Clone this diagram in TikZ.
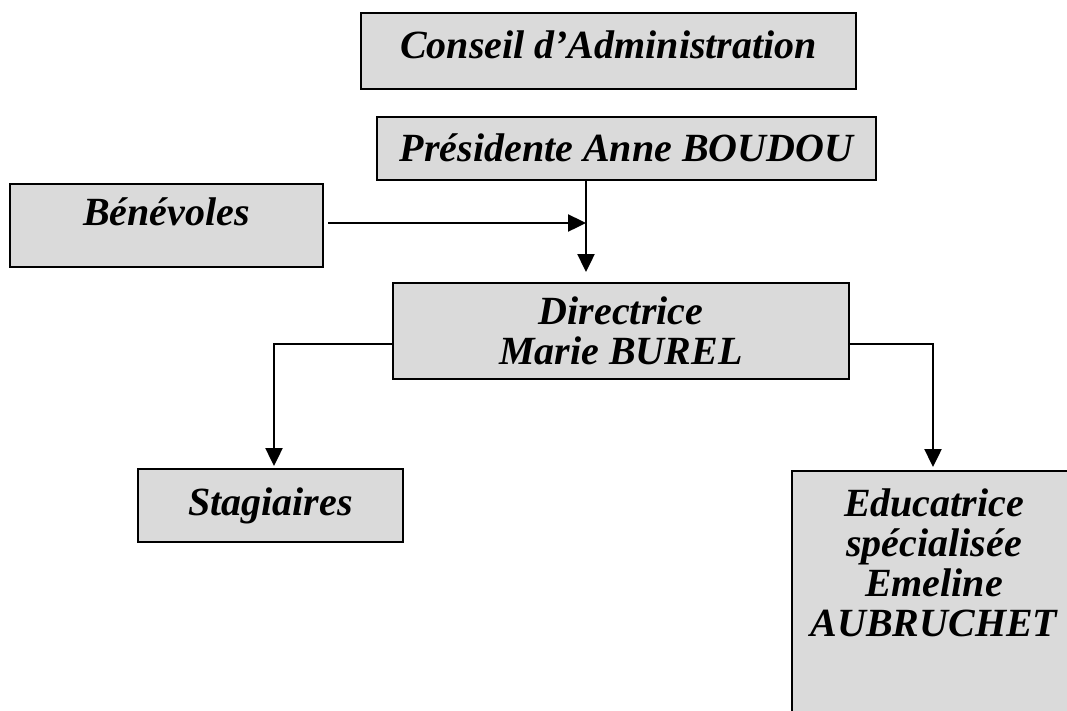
\documentclass[tikz,border=0pt]{standalone}
\usepackage{fontspec}
\setmainfont{Liberation Serif}
\usetikzlibrary{arrows.meta}
\definecolor{boxgray}{HTML}{DADADA}
\begin{document}
\begin{tikzpicture}[x=1pt, y=-1pt, >={Triangle[length=18pt, width=17pt]}, line width=2.4pt]
	\tikzset{
	    obox/.style= {draw=black, fill=boxgray, line width=2pt, inner sep=0pt,
	        font=\fontsize{40}{40}\selectfont\bfseries\itshape},
	}
	\useasboundingbox (0,0) rectangle (1067,710);
	\clip (0,0) rectangle (1067,710);

	\node[obox, minimum width=495pt, minimum height=76pt, text height=26pt, text depth=12pt] (ca) at (608.5,51) {Conseil d'Administration};
	\node[obox, minimum width=499pt, minimum height=63pt, text height=26pt, text depth=1pt] (pres) at (626.5,148.5) {Présidente Anne BOUDOU};
	\node[obox, minimum width=313pt, minimum height=83pt, text height=26pt, text depth=26pt] (benev) at (166.5,225.5) {Bénévoles};
	\node[obox, align=center, minimum width=456pt, minimum height=96pt] (dir) at (621,331) {Directrice\\Marie BUREL};
	\node[obox, minimum width=265pt, minimum height=73pt] (stag) at (270.5,505.5) {Stagiaires};
	\node[obox, anchor=north west] (educ) at (791,470) {\parbox[t][290pt][t]{284pt}{\centering\vspace*{18pt}Educatrice\\ spécialisée\\ Emeline\\ AUBRUCHET}};

	\coordinate (mid) at (586,223);
	\coordinate (lturn) at (274,344);
	\coordinate (rturn) at (933,344);

	\draw[->] (mid |- pres.south) -- ([yshift=10pt]mid |- dir.north);
	\draw[->] ([xshift=4pt]benev.east |- mid) -- (mid);
	\draw[->] (dir.west |- lturn) -- (lturn) -- ([yshift=2pt]lturn |- stag.north);
	\draw[->] (dir.east |- rturn) -- (rturn) -- ([yshift=3pt]rturn |- educ.north);
\end{tikzpicture}
\end{document}
